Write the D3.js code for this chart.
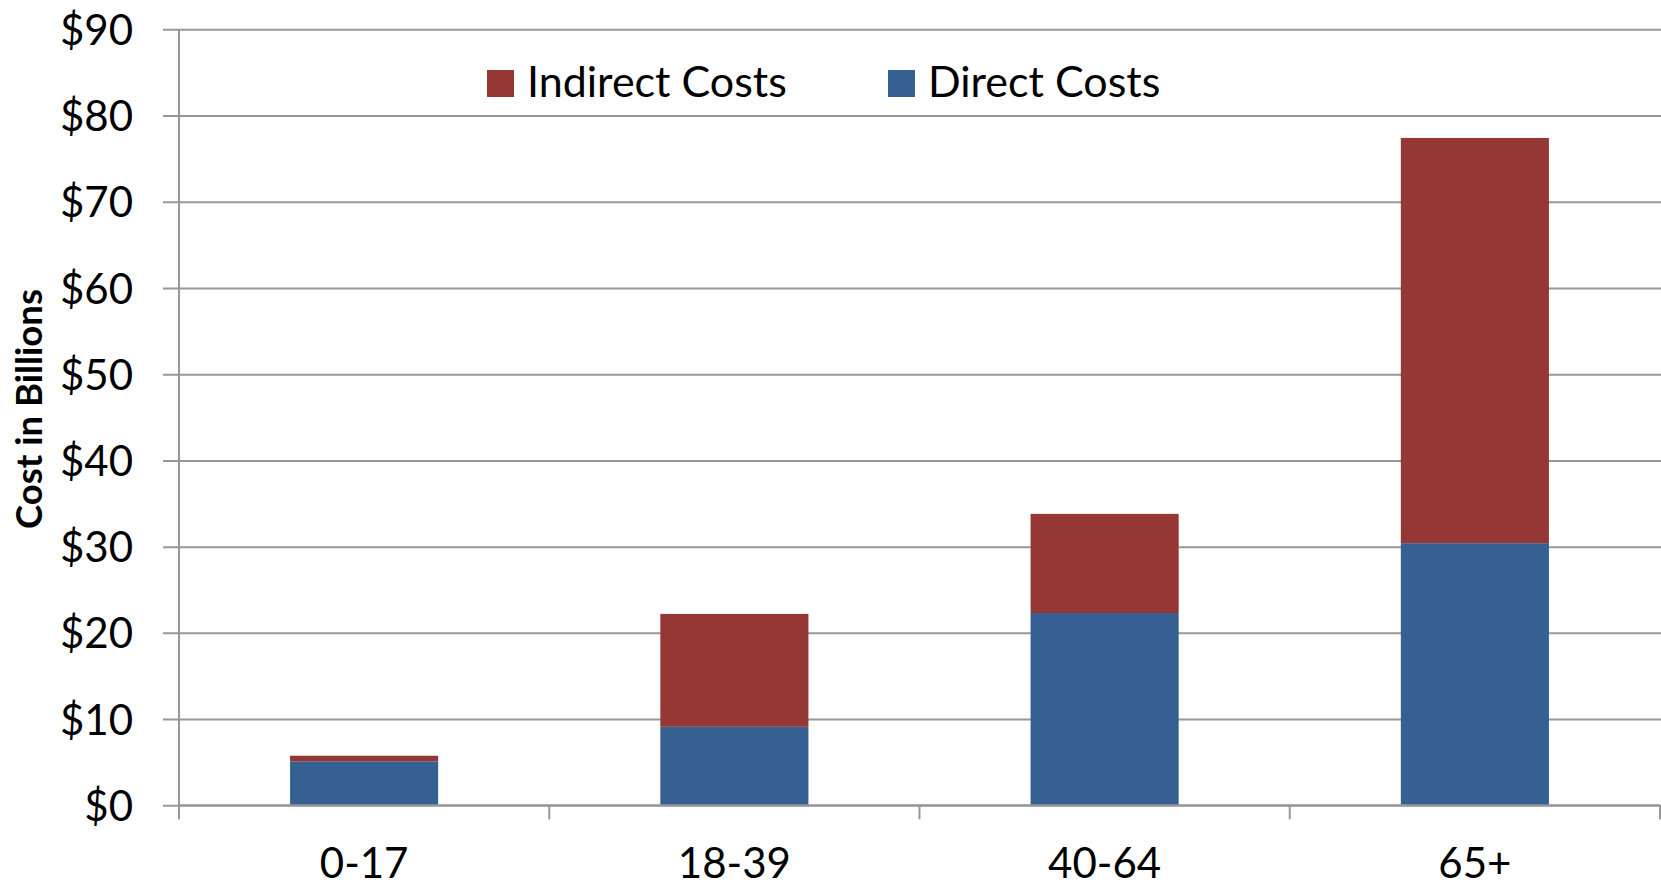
<!DOCTYPE html>
<html>
<head>
<meta charset="utf-8">
<script src="https://cdn.jsdelivr.net/npm/d3@7"></script>
<style>
  html, body { margin: 0; padding: 0; background: #fff; }
  svg { display: block; }
  text { font-family: Lato, "Open Sans", sans-serif; fill: #000; }
</style>
</head>
<body>
<svg id="chart" width="1661" height="884"></svg>
<script>
// Age groups and cost components, billions of dollars
const categories = ["0-17", "18-39", "40-64", "65+"];
const directCosts = [5.1, 9.1, 22.3, 30.4];
const indirectCosts = [0.65, 13.1, 11.5, 47.0];
const yTicks = [0, 10, 20, 30, 40, 50, 60, 70, 80, 90];
const seriesNames = ["Indirect Costs", "Direct Costs"];
const seriesColors = ["#953735", "#366092"];

const W = 1661, H = 884;
const plot = { left: 179, right: 1660, top: 29.3, bottom: 805.3 };

const svg = d3.select("#chart");

const y = d3.scaleLinear().domain([0, 90]).range([plot.bottom, plot.top]);

// Category slots (ticks fall on slot boundaries)
const xSlot = d3.scaleBand().domain(categories).range([plot.left, plot.right]).padding(0);
// Bars occupy the middle 40% of each slot
const xBar = d3.scaleBand().domain(categories).range([plot.left, plot.right])
  .paddingInner(0.6).paddingOuter(0.3);

const grid = "#979797";

// Horizontal gridlines with left tick marks
const yAxis = d3.axisLeft(y).tickValues(yTicks)
  .tickSize(-(W - plot.left)).tickPadding(0).tickFormat(d => "$" + d);
const gy = svg.append("g").attr("transform", `translate(${plot.left},0)`).call(yAxis);
gy.select(".domain").remove();
gy.selectAll(".tick line").attr("stroke", grid).attr("stroke-width", 2).attr("x1", -16);
gy.selectAll(".tick text")
  .attr("x", -46).attr("dy", "0.36em")
  .attr("font-size", 42).attr("font-family", "Lato, sans-serif")
  .attr("fill", "#000");

// Stacked bars
const stackData = categories.map((c, i) => ({ cat: c, direct: directCosts[i], indirect: indirectCosts[i] }));
const stack = d3.stack().keys(["direct", "indirect"]);
const layers = stack(stackData);
const layerColor = { direct: seriesColors[1], indirect: seriesColors[0] };

svg.append("g").selectAll("g").data(layers).join("g")
  .attr("fill", d => layerColor[d.key])
  .selectAll("rect").data(d => d).join("rect")
  .attr("x", d => xBar(d.data.cat))
  .attr("width", xBar.bandwidth())
  .attr("y", d => y(d[1]))
  .attr("height", d => y(d[0]) - y(d[1]));

// Vertical axis line, extending down to the category tick length
svg.append("line")
  .attr("x1", plot.left).attr("x2", plot.left)
  .attr("y1", plot.top).attr("y2", plot.bottom + 14)
  .attr("stroke", grid).attr("stroke-width", 2);

// Category axis: boundary ticks and centered labels
const boundaries = categories.map(c => xSlot(c)).concat([plot.right]);
svg.append("line")
  .attr("x1", plot.left).attr("x2", plot.right)
  .attr("y1", plot.bottom).attr("y2", plot.bottom)
  .attr("stroke", grid).attr("stroke-width", 2);
svg.append("g").selectAll("line").data(boundaries).join("line")
  .attr("x1", d => d).attr("x2", d => d)
  .attr("y1", plot.bottom).attr("y2", plot.bottom + 14)
  .attr("stroke", grid).attr("stroke-width", 2);
svg.append("g").selectAll("text").data(categories).join("text")
  .attr("x", d => xSlot(d) + xSlot.bandwidth() / 2)
  .attr("y", 878)
  .attr("text-anchor", "middle")
  .attr("font-size", 42)
  .text(d => d);

// Axis title
svg.append("text")
  .attr("transform", "translate(42,409) rotate(-90)")
  .attr("text-anchor", "middle")
  .attr("font-size", 36.5)
  .attr("font-weight", "bold")
  .text("Cost in Billions");

// Legend
const legendX = [487, 888];
const legend = svg.append("g").selectAll("g").data(seriesNames).join("g")
  .attr("transform", (d, i) => `translate(${legendX[i]},70)`);
legend.append("rect").attr("width", 27).attr("height", 27)
  .attr("fill", (d, i) => seriesColors[i]);
legend.append("text").attr("x", 40).attr("y", 27)
  .attr("font-size", 43).text(d => d);
</script>
</body>
</html>
